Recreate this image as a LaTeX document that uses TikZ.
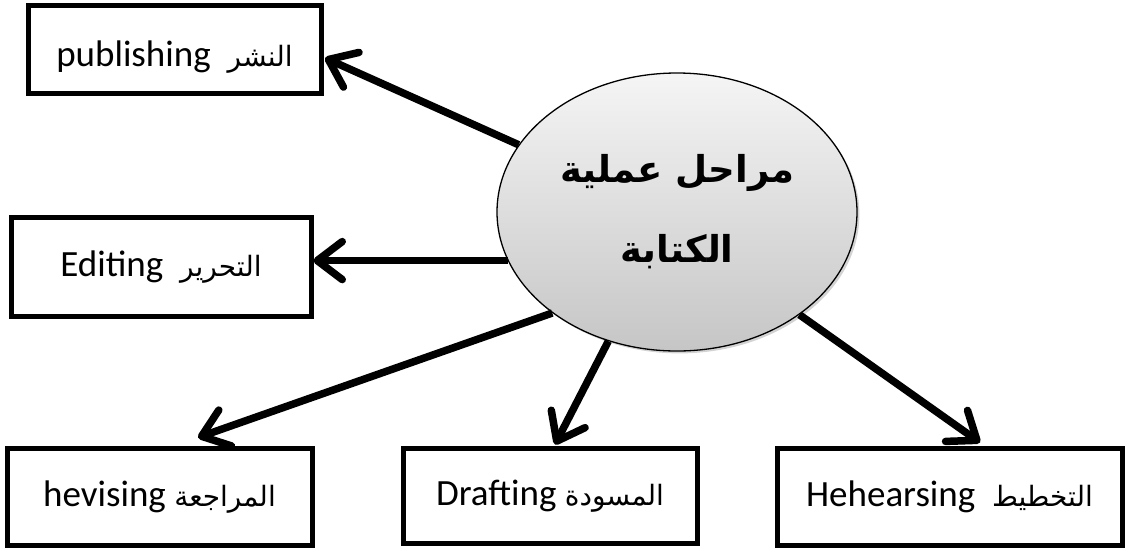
\documentclass[tikz,border=0pt]{standalone}
\usepackage{fontspec}
\setmainfont{Carlito}
\newfontfamily\arabicfont[Script=Arabic]{DejaVu Sans}
\TeXXeTstate=1
\usetikzlibrary{arrows.meta,shadows,shapes.geometric}

\tikzset{
  stagebox/.style={draw,line width=5pt,inner sep=0pt,text height=19pt,text depth=0pt,
    font=\fontsize{37}{40}\selectfont},
  arr/.style={line width=7.5pt,-{Straight Barb[length=25pt,width=38pt,round]}}
}
\newcommand{\ar}[1]{{\arabicfont\fontsize{28}{30}\selectfont\beginR #1\endR}}

\begin{document}
\begin{tikzpicture}
  [x=1pt,y=-1pt]
  \useasboundingbox (0,0) rectangle (1126,547);
  \node[stagebox,minimum width=293pt,minimum height=88pt,text height=34pt] (pub) at (174.5,49) {publishing\ \ \ar{النشر}};
  \node[stagebox,minimum width=300pt,minimum height=99pt] (edit)  at (161,266.5)  {Editing\ \ \ar{التحرير}};
  \node[stagebox,minimum width=305pt,minimum height=97pt] (hev)   at (159.5,496.5) {hevising\ \ar{المراجعة}};
  \node[stagebox,minimum width=294pt,minimum height=95pt] (draft) at (550,495.5)  {Drafting\ \ar{المسودة}};
  \node[stagebox,minimum width=345pt,minimum height=97pt] (heh)   at (949.5,496.5) {Hehearsing\ \ \ar{التخطيط}};
  \node[draw,ellipse,line width=1.3pt,minimum width=360pt,minimum height=278pt,inner sep=0pt,
        top color=gray!8,bottom color=gray!45,drop shadow={opacity=0.35},
        align=center,font=\arabicfont\bfseries\fontsize{37}{80}\selectfont] (main) at (677,212)
        {\beginR مراحل عملية\endR\\\beginR الكتابة\endR};
  % tips of the arrows
  \coordinate (tpub)   at ([shift={(1.5,9)}]pub.east);
  \coordinate (tedit)  at (main.196.9 -| edit.east);
  \coordinate (thev)   at ([shift={(38.5,-8)}]hev.north);
  \coordinate (tdraft) at ([shift={(5,-1)}]draft.north);
  \coordinate (theh)   at ([shift={(30.5,-3)}]heh.north);
  \foreach \a/\to in {157.4/tpub,196.9/tedit,219.7/thev,242.9/tdraft,320.6/theh}
    \draw[arr] (main.\a) -- (\to);
\end{tikzpicture}
\end{document}
